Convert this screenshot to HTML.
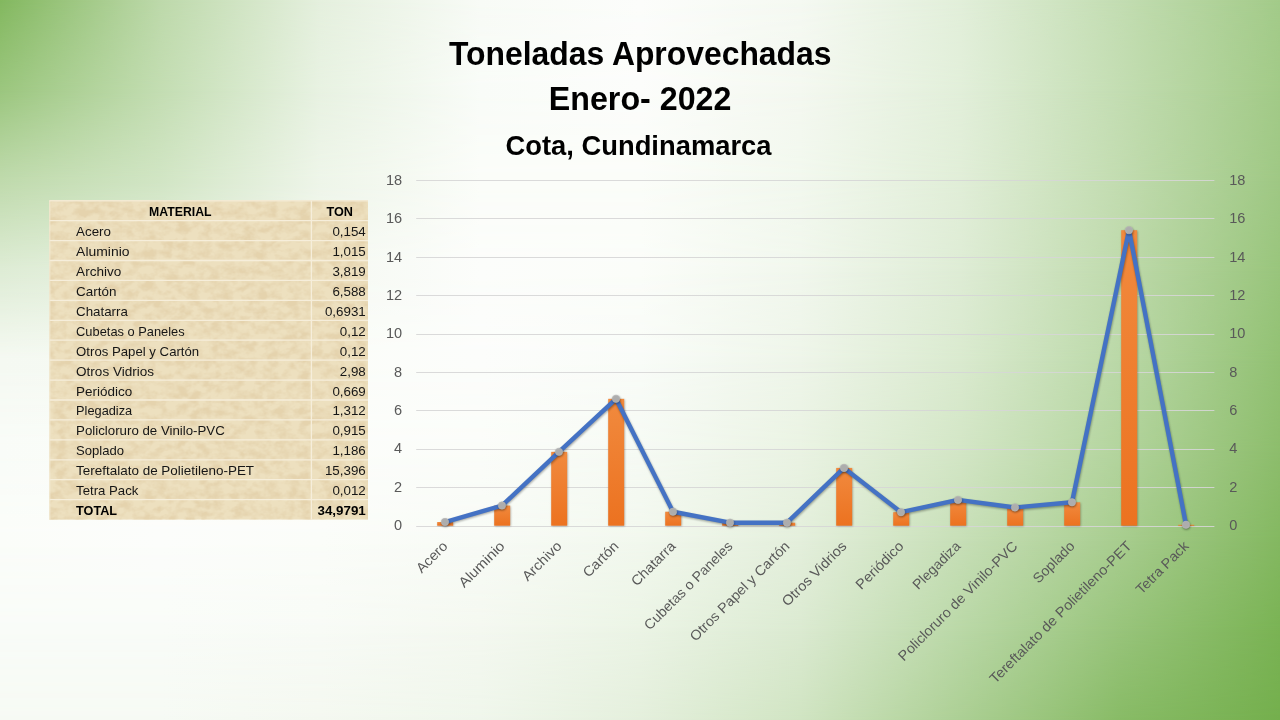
<!DOCTYPE html>
<html lang="es"><head><meta charset="utf-8"><title>Toneladas Aprovechadas Enero- 2022</title>
<style>
html,body{margin:0;padding:0;width:1280px;height:720px;overflow:hidden;background:#fbfdf9;}
body{position:relative;font-family:"Liberation Sans",sans-serif;}
.bd{position:absolute;left:0;width:1280px;overflow:hidden}
.bu{position:absolute;left:0;top:0;width:100%;height:100%;-webkit-mask-image:linear-gradient(to bottom,rgba(0,0,0,0),rgba(0,0,0,1));mask-image:linear-gradient(to bottom,rgba(0,0,0,0),rgba(0,0,0,1))}
svg{position:absolute;left:0;top:0;}
text{font-family:"Liberation Sans",sans-serif;}
</style></head><body>
<div id="bg"><div class="bd" style="top:0px;height:90px;background:linear-gradient(to right,#83b85f 0.00%,#bdd9aa 12.50%,#e5f0de 25.00%,#f8fbf6 37.50%,#fcfdfb 50.00%,#f5f9f2 62.50%,#e2efda 75.00%,#c3ddb2 87.50%,#a3cb89 100.00%)"><div class="bu" style="background:linear-gradient(to right,#9bc67e 0.00%,#c3ddb2 12.50%,#e8f2e2 25.00%,#f9fcf8 37.50%,#fcfdfb 50.00%,#f4f8f0 62.50%,#e2efda 75.00%,#c3ddb2 87.50%,#a2ca87 100.00%)"></div></div>
<div class="bd" style="top:90px;height:90px;background:linear-gradient(to right,#9bc67e 0.00%,#c3ddb2 12.50%,#e8f2e2 25.00%,#f9fcf8 37.50%,#fcfdfb 50.00%,#f4f8f0 62.50%,#e2efda 75.00%,#c3ddb2 87.50%,#a2ca87 100.00%)"><div class="bu" style="background:linear-gradient(to right,#bfdaac 0.00%,#d1e5c4 12.50%,#eef5e9 25.00%,#fbfdf9 37.50%,#fbfdf9 50.00%,#f2f8ee 62.50%,#e1eed8 75.00%,#c2dcb0 87.50%,#9fc884 100.00%)"></div></div>
<div class="bd" style="top:180px;height:90px;background:linear-gradient(to right,#bfdaac 0.00%,#d1e5c4 12.50%,#eef5e9 25.00%,#fbfdf9 37.50%,#fbfdf9 50.00%,#f2f8ee 62.50%,#e1eed8 75.00%,#c2dcb0 87.50%,#9fc884 100.00%)"><div class="bu" style="background:linear-gradient(to right,#deecd5 0.00%,#e8f2e2 12.50%,#f5f9f2 25.00%,#fcfdfb 37.50%,#fbfdf9 50.00%,#f1f7ed 62.50%,#deecd5 75.00%,#bfdaac 87.50%,#99c57c 100.00%)"></div></div>
<div class="bd" style="top:270px;height:90px;background:linear-gradient(to right,#deecd5 0.00%,#e8f2e2 12.50%,#f5f9f2 25.00%,#fcfdfb 37.50%,#fbfdf9 50.00%,#f1f7ed 62.50%,#deecd5 75.00%,#bfdaac 87.50%,#99c57c 100.00%)"><div class="bu" style="background:linear-gradient(to right,#f5f9f2 0.00%,#f6faf4 12.50%,#fbfdf9 25.00%,#fcfdfb 37.50%,#f9fcf8 50.00%,#eef5e9 62.50%,#daeacf 75.00%,#bad8a7 87.50%,#92c173 100.00%)"></div></div>
<div class="bd" style="top:360px;height:90px;background:linear-gradient(to right,#f5f9f2 0.00%,#f6faf4 12.50%,#fbfdf9 25.00%,#fcfdfb 37.50%,#f9fcf8 50.00%,#eef5e9 62.50%,#daeacf 75.00%,#bad8a7 87.50%,#92c173 100.00%)"><div class="bu" style="background:linear-gradient(to right,#f9fcf8 0.00%,#fbfdf9 12.50%,#fcfdfb 25.00%,#fbfdf9 37.50%,#f6faf4 50.00%,#eaf3e3 62.50%,#d3e6c6 75.00%,#b3d49d 87.50%,#8dbd6c 100.00%)"></div></div>
<div class="bd" style="top:450px;height:90px;background:linear-gradient(to right,#f9fcf8 0.00%,#fbfdf9 12.50%,#fcfdfb 25.00%,#fbfdf9 37.50%,#f6faf4 50.00%,#eaf3e3 62.50%,#d3e6c6 75.00%,#b3d49d 87.50%,#8dbd6c 100.00%)"><div class="bu" style="background:linear-gradient(to right,#fbfdf9 0.00%,#fcfdfb 12.50%,#fbfdf9 25.00%,#f8fbf6 37.50%,#f2f8ee 50.00%,#e4efdc 62.50%,#c7dfb7 75.00%,#a8cd8f 87.50%,#84b861 100.00%)"></div></div>
<div class="bd" style="top:540px;height:90px;background:linear-gradient(to right,#fbfdf9 0.00%,#fcfdfb 12.50%,#fbfdf9 25.00%,#f8fbf6 37.50%,#f2f8ee 50.00%,#e4efdc 62.50%,#c7dfb7 75.00%,#a8cd8f 87.50%,#84b861 100.00%)"><div class="bu" style="background:linear-gradient(to right,#f9fcf8 0.00%,#f9fcf8 12.50%,#f8fbf6 25.00%,#f4f8f0 37.50%,#ebf4e5 50.00%,#dbead1 62.50%,#bad8a7 75.00%,#98c47b 87.50%,#7ab354 100.00%)"></div></div>
<div class="bd" style="top:630px;height:90px;background:linear-gradient(to right,#f9fcf8 0.00%,#f9fcf8 12.50%,#f8fbf6 25.00%,#f4f8f0 37.50%,#ebf4e5 50.00%,#dbead1 62.50%,#bad8a7 75.00%,#98c47b 87.50%,#7ab354 100.00%)"><div class="bu" style="background:linear-gradient(to right,#f6faf4 0.00%,#f6faf4 12.50%,#f4f8f0 25.00%,#eff6eb 37.50%,#e4efdc 50.00%,#d0e4c2 62.50%,#accf94 75.00%,#88bb66 87.50%,#74af4d 100.00%)"></div></div></div>
<svg width="1280" height="720" viewBox="0 0 1280 720">
<defs>
<linearGradient id="bar" x1="0" y1="0" x2="0" y2="1"><stop offset="0" stop-color="#f18a3e"/><stop offset="1" stop-color="#ec7220"/></linearGradient>
<filter id="parch" x="0" y="0" width="100%" height="100%">
<feTurbulence type="fractalNoise" baseFrequency="0.09 0.12" numOctaves="3" seed="11" result="n"/>
<feColorMatrix in="n" type="matrix" values="0 0 0 0 0.78  0 0 0 0 0.65  0 0 0 0 0.42  2.0 1.8 0 0 -1.55"/>
<feComposite in2="SourceGraphic" operator="in"/>
</filter>
<filter id="sh" x="-20%" y="-20%" width="140%" height="140%"><feGaussianBlur stdDeviation="1.2"/></filter>
</defs>

<text x="449.00" y="64.60" font-size="33" text-anchor="start" font-weight="bold" fill="#000" textLength="382.5" lengthAdjust="spacingAndGlyphs">Toneladas Aprovechadas</text>
<text x="548.80" y="109.60" font-size="33" text-anchor="start" font-weight="bold" fill="#000" textLength="182.6" lengthAdjust="spacingAndGlyphs">Enero- 2022</text>
<text x="505.50" y="154.50" font-size="28.5" text-anchor="start" font-weight="bold" fill="#000" textLength="266.0" lengthAdjust="spacingAndGlyphs">Cota, Cundinamarca</text>
<g id="tabla">
<rect x="49.3" y="200.7" width="318.7" height="318.88" fill="#ede0bf"/>
<rect x="49.3" y="200.7" width="318.7" height="318.88" fill="#e9dbb9" filter="url(#parch)"/>
<line x1="49.3" y1="200.70" x2="368.0" y2="200.70" stroke="#f3ead3" stroke-width="1.4"/>
<line x1="49.3" y1="220.63" x2="368.0" y2="220.63" stroke="#f6eedb" stroke-width="1.3"/>
<line x1="49.3" y1="240.56" x2="368.0" y2="240.56" stroke="#f6eedb" stroke-width="1.3"/>
<line x1="49.3" y1="260.49" x2="368.0" y2="260.49" stroke="#f6eedb" stroke-width="1.3"/>
<line x1="49.3" y1="280.42" x2="368.0" y2="280.42" stroke="#f6eedb" stroke-width="1.3"/>
<line x1="49.3" y1="300.35" x2="368.0" y2="300.35" stroke="#f6eedb" stroke-width="1.3"/>
<line x1="49.3" y1="320.28" x2="368.0" y2="320.28" stroke="#f6eedb" stroke-width="1.3"/>
<line x1="49.3" y1="340.21" x2="368.0" y2="340.21" stroke="#f6eedb" stroke-width="1.3"/>
<line x1="49.3" y1="360.14" x2="368.0" y2="360.14" stroke="#f6eedb" stroke-width="1.3"/>
<line x1="49.3" y1="380.07" x2="368.0" y2="380.07" stroke="#f6eedb" stroke-width="1.3"/>
<line x1="49.3" y1="400.00" x2="368.0" y2="400.00" stroke="#f6eedb" stroke-width="1.3"/>
<line x1="49.3" y1="419.93" x2="368.0" y2="419.93" stroke="#f6eedb" stroke-width="1.3"/>
<line x1="49.3" y1="439.86" x2="368.0" y2="439.86" stroke="#f6eedb" stroke-width="1.3"/>
<line x1="49.3" y1="459.79" x2="368.0" y2="459.79" stroke="#f6eedb" stroke-width="1.3"/>
<line x1="49.3" y1="479.72" x2="368.0" y2="479.72" stroke="#f6eedb" stroke-width="1.3"/>
<line x1="49.3" y1="499.65" x2="368.0" y2="499.65" stroke="#f6eedb" stroke-width="1.3"/>
<line x1="311.4" y1="200.7" x2="311.4" y2="519.58" stroke="#f6eedb" stroke-width="1.3"/>
<line x1="49.8" y1="200.7" x2="49.8" y2="519.58" stroke="#f3ead3" stroke-width="1"/>
<text x="180.35" y="216.13" font-size="13" text-anchor="middle" font-weight="bold" fill="#000" textLength="62.5" lengthAdjust="spacingAndGlyphs">MATERIAL</text>
<text x="339.70" y="216.13" font-size="13" text-anchor="middle" font-weight="bold" fill="#000" textLength="26.5" lengthAdjust="spacingAndGlyphs">TON</text>
<text x="76.10" y="236.06" font-size="13" text-anchor="start" fill="#161616" textLength="34.9" lengthAdjust="spacingAndGlyphs">Acero</text>
<text x="365.80" y="236.06" font-size="13" text-anchor="end" fill="#161616" textLength="33.4" lengthAdjust="spacingAndGlyphs">0,154</text>
<text x="76.10" y="255.99" font-size="13" text-anchor="start" fill="#161616" textLength="53.4" lengthAdjust="spacingAndGlyphs">Aluminio</text>
<text x="365.80" y="255.99" font-size="13" text-anchor="end" fill="#161616" textLength="33.4" lengthAdjust="spacingAndGlyphs">1,015</text>
<text x="76.10" y="275.92" font-size="13" text-anchor="start" fill="#161616" textLength="45.2" lengthAdjust="spacingAndGlyphs">Archivo</text>
<text x="365.80" y="275.92" font-size="13" text-anchor="end" fill="#161616" textLength="33.4" lengthAdjust="spacingAndGlyphs">3,819</text>
<text x="76.10" y="295.85" font-size="13" text-anchor="start" fill="#161616" textLength="40.3" lengthAdjust="spacingAndGlyphs">Cartón</text>
<text x="365.80" y="295.85" font-size="13" text-anchor="end" fill="#161616" textLength="33.4" lengthAdjust="spacingAndGlyphs">6,588</text>
<text x="76.10" y="315.78" font-size="13" text-anchor="start" fill="#161616" textLength="51.8" lengthAdjust="spacingAndGlyphs">Chatarra</text>
<text x="365.80" y="315.78" font-size="13" text-anchor="end" fill="#161616" textLength="40.9" lengthAdjust="spacingAndGlyphs">0,6931</text>
<text x="76.10" y="335.71" font-size="13" text-anchor="start" fill="#161616" textLength="108.6" lengthAdjust="spacingAndGlyphs">Cubetas o Paneles</text>
<text x="365.80" y="335.71" font-size="13" text-anchor="end" fill="#161616" textLength="26.0" lengthAdjust="spacingAndGlyphs">0,12</text>
<text x="76.10" y="355.64" font-size="13" text-anchor="start" fill="#161616" textLength="123.1" lengthAdjust="spacingAndGlyphs">Otros Papel y Cartón</text>
<text x="365.80" y="355.64" font-size="13" text-anchor="end" fill="#161616" textLength="26.0" lengthAdjust="spacingAndGlyphs">0,12</text>
<text x="76.10" y="375.57" font-size="13" text-anchor="start" fill="#161616" textLength="77.9" lengthAdjust="spacingAndGlyphs">Otros Vidrios</text>
<text x="365.80" y="375.57" font-size="13" text-anchor="end" fill="#161616" textLength="26.0" lengthAdjust="spacingAndGlyphs">2,98</text>
<text x="76.10" y="395.50" font-size="13" text-anchor="start" fill="#161616" textLength="56.1" lengthAdjust="spacingAndGlyphs">Periódico</text>
<text x="365.80" y="395.50" font-size="13" text-anchor="end" fill="#161616" textLength="33.4" lengthAdjust="spacingAndGlyphs">0,669</text>
<text x="76.10" y="415.43" font-size="13" text-anchor="start" fill="#161616" textLength="56.1" lengthAdjust="spacingAndGlyphs">Plegadiza</text>
<text x="365.80" y="415.43" font-size="13" text-anchor="end" fill="#161616" textLength="33.4" lengthAdjust="spacingAndGlyphs">1,312</text>
<text x="76.10" y="435.36" font-size="13" text-anchor="start" fill="#161616" textLength="148.7" lengthAdjust="spacingAndGlyphs">Policloruro de Vinilo-PVC</text>
<text x="365.80" y="435.36" font-size="13" text-anchor="end" fill="#161616" textLength="33.4" lengthAdjust="spacingAndGlyphs">0,915</text>
<text x="76.10" y="455.29" font-size="13" text-anchor="start" fill="#161616" textLength="48.0" lengthAdjust="spacingAndGlyphs">Soplado</text>
<text x="365.80" y="455.29" font-size="13" text-anchor="end" fill="#161616" textLength="33.4" lengthAdjust="spacingAndGlyphs">1,186</text>
<text x="76.10" y="475.22" font-size="13" text-anchor="start" fill="#161616" textLength="178.0" lengthAdjust="spacingAndGlyphs">Tereftalato de Polietileno-PET</text>
<text x="365.80" y="475.22" font-size="13" text-anchor="end" fill="#161616" textLength="40.9" lengthAdjust="spacingAndGlyphs">15,396</text>
<text x="76.10" y="495.15" font-size="13" text-anchor="start" fill="#161616" textLength="62.3" lengthAdjust="spacingAndGlyphs">Tetra Pack</text>
<text x="365.80" y="495.15" font-size="13" text-anchor="end" fill="#161616" textLength="33.4" lengthAdjust="spacingAndGlyphs">0,012</text>
<text x="76.10" y="515.08" font-size="13" text-anchor="start" font-weight="bold" fill="#000" textLength="41.0" lengthAdjust="spacingAndGlyphs">TOTAL</text>
<text x="365.80" y="515.08" font-size="13" text-anchor="end" font-weight="bold" fill="#000" textLength="48.3" lengthAdjust="spacingAndGlyphs">34,9791</text>
</g>
<g id="grafico">
<rect x="416.2" y="526.05" width="798.2" height="0.9" fill="#d6d6d6"/>
<rect x="416.2" y="487.05" width="798.2" height="0.9" fill="#d6d6d6"/>
<rect x="416.2" y="449.05" width="798.2" height="0.9" fill="#d6d6d6"/>
<rect x="416.2" y="410.05" width="798.2" height="0.9" fill="#d6d6d6"/>
<rect x="416.2" y="372.05" width="798.2" height="0.9" fill="#d6d6d6"/>
<rect x="416.2" y="334.05" width="798.2" height="0.9" fill="#d6d6d6"/>
<rect x="416.2" y="295.05" width="798.2" height="0.9" fill="#d6d6d6"/>
<rect x="416.2" y="257.05" width="798.2" height="0.9" fill="#d6d6d6"/>
<rect x="416.2" y="218.05" width="798.2" height="0.9" fill="#d6d6d6"/>
<rect x="416.2" y="180.05" width="798.2" height="0.9" fill="#d6d6d6"/>
<text x="402.20" y="529.80" font-size="14" text-anchor="end" fill="#595959" textLength="8.1" lengthAdjust="spacingAndGlyphs">0</text>
<text x="1229.20" y="529.80" font-size="14" text-anchor="start" fill="#595959" textLength="8.1" lengthAdjust="spacingAndGlyphs">0</text>
<text x="402.20" y="491.51" font-size="14" text-anchor="end" fill="#595959" textLength="8.1" lengthAdjust="spacingAndGlyphs">2</text>
<text x="1229.20" y="491.51" font-size="14" text-anchor="start" fill="#595959" textLength="8.1" lengthAdjust="spacingAndGlyphs">2</text>
<text x="402.20" y="453.22" font-size="14" text-anchor="end" fill="#595959" textLength="8.1" lengthAdjust="spacingAndGlyphs">4</text>
<text x="1229.20" y="453.22" font-size="14" text-anchor="start" fill="#595959" textLength="8.1" lengthAdjust="spacingAndGlyphs">4</text>
<text x="402.20" y="414.93" font-size="14" text-anchor="end" fill="#595959" textLength="8.1" lengthAdjust="spacingAndGlyphs">6</text>
<text x="1229.20" y="414.93" font-size="14" text-anchor="start" fill="#595959" textLength="8.1" lengthAdjust="spacingAndGlyphs">6</text>
<text x="402.20" y="376.64" font-size="14" text-anchor="end" fill="#595959" textLength="8.1" lengthAdjust="spacingAndGlyphs">8</text>
<text x="1229.20" y="376.64" font-size="14" text-anchor="start" fill="#595959" textLength="8.1" lengthAdjust="spacingAndGlyphs">8</text>
<text x="402.20" y="338.35" font-size="14" text-anchor="end" fill="#595959" textLength="16.2" lengthAdjust="spacingAndGlyphs">10</text>
<text x="1229.20" y="338.35" font-size="14" text-anchor="start" fill="#595959" textLength="16.2" lengthAdjust="spacingAndGlyphs">10</text>
<text x="402.20" y="300.06" font-size="14" text-anchor="end" fill="#595959" textLength="16.2" lengthAdjust="spacingAndGlyphs">12</text>
<text x="1229.20" y="300.06" font-size="14" text-anchor="start" fill="#595959" textLength="16.2" lengthAdjust="spacingAndGlyphs">12</text>
<text x="402.20" y="261.77" font-size="14" text-anchor="end" fill="#595959" textLength="16.2" lengthAdjust="spacingAndGlyphs">14</text>
<text x="1229.20" y="261.77" font-size="14" text-anchor="start" fill="#595959" textLength="16.2" lengthAdjust="spacingAndGlyphs">14</text>
<text x="402.20" y="223.48" font-size="14" text-anchor="end" fill="#595959" textLength="16.2" lengthAdjust="spacingAndGlyphs">16</text>
<text x="1229.20" y="223.48" font-size="14" text-anchor="start" fill="#595959" textLength="16.2" lengthAdjust="spacingAndGlyphs">16</text>
<text x="402.20" y="185.19" font-size="14" text-anchor="end" fill="#595959" textLength="16.2" lengthAdjust="spacingAndGlyphs">18</text>
<text x="1229.20" y="185.19" font-size="14" text-anchor="start" fill="#595959" textLength="16.2" lengthAdjust="spacingAndGlyphs">18</text>
<rect x="437.80" y="522.85" width="16" height="3.35" fill="#000" opacity=".28" filter="url(#sh)"/>
<rect x="437.20" y="522.05" width="16" height="3.65" fill="url(#bar)"/>
<rect x="494.80" y="506.36" width="16" height="19.84" fill="#000" opacity=".28" filter="url(#sh)"/>
<rect x="494.20" y="505.56" width="16" height="20.14" fill="url(#bar)"/>
<rect x="551.80" y="452.67" width="16" height="73.53" fill="#000" opacity=".28" filter="url(#sh)"/>
<rect x="551.20" y="451.87" width="16" height="73.83" fill="url(#bar)"/>
<rect x="608.80" y="399.64" width="16" height="126.56" fill="#000" opacity=".28" filter="url(#sh)"/>
<rect x="608.20" y="398.84" width="16" height="126.86" fill="url(#bar)"/>
<rect x="665.80" y="512.53" width="16" height="13.67" fill="#000" opacity=".28" filter="url(#sh)"/>
<rect x="665.20" y="511.73" width="16" height="13.97" fill="url(#bar)"/>
<rect x="722.80" y="523.50" width="16" height="2.70" fill="#000" opacity=".28" filter="url(#sh)"/>
<rect x="722.20" y="522.70" width="16" height="3.00" fill="url(#bar)"/>
<rect x="779.80" y="523.50" width="16" height="2.70" fill="#000" opacity=".28" filter="url(#sh)"/>
<rect x="779.20" y="522.70" width="16" height="3.00" fill="url(#bar)"/>
<rect x="836.80" y="468.73" width="16" height="57.47" fill="#000" opacity=".28" filter="url(#sh)"/>
<rect x="836.20" y="467.93" width="16" height="57.77" fill="url(#bar)"/>
<rect x="893.80" y="512.99" width="16" height="13.21" fill="#000" opacity=".28" filter="url(#sh)"/>
<rect x="893.20" y="512.19" width="16" height="13.51" fill="url(#bar)"/>
<rect x="950.80" y="500.68" width="16" height="25.52" fill="#000" opacity=".28" filter="url(#sh)"/>
<rect x="950.20" y="499.88" width="16" height="25.82" fill="url(#bar)"/>
<rect x="1007.80" y="508.28" width="16" height="17.92" fill="#000" opacity=".28" filter="url(#sh)"/>
<rect x="1007.20" y="507.48" width="16" height="18.22" fill="url(#bar)"/>
<rect x="1064.80" y="503.09" width="16" height="23.11" fill="#000" opacity=".28" filter="url(#sh)"/>
<rect x="1064.20" y="502.29" width="16" height="23.41" fill="url(#bar)"/>
<rect x="1121.80" y="230.97" width="16" height="295.23" fill="#000" opacity=".28" filter="url(#sh)"/>
<rect x="1121.20" y="230.17" width="16" height="295.53" fill="url(#bar)"/>
<rect x="1178.80" y="525.57" width="16" height="0.63" fill="#000" opacity=".28" filter="url(#sh)"/>
<rect x="1178.20" y="524.77" width="16" height="0.93" fill="url(#bar)"/>
<polyline points="445.50,523.25 502.50,506.76 559.50,453.07 616.50,400.04 673.50,512.93 730.50,523.90 787.50,523.90 844.50,469.13 901.50,513.39 958.50,501.08 1015.50,508.68 1072.50,503.49 1129.50,231.37 1186.50,525.97" fill="none" stroke="#000" opacity=".35" stroke-width="4.4" stroke-linejoin="round" stroke-linecap="round" filter="url(#sh)"/>
<polyline points="445.00,522.05 502.00,505.56 559.00,451.87 616.00,398.84 673.00,511.73 730.00,522.70 787.00,522.70 844.00,467.93 901.00,512.19 958.00,499.88 1015.00,507.48 1072.00,502.29 1129.00,230.17 1186.00,524.77" fill="none" stroke="#4472c4" stroke-width="4.4" stroke-linejoin="round" stroke-linecap="round"/>
<circle cx="445.40" cy="523.05" r="4" fill="#000" opacity=".35" filter="url(#sh)"/>
<circle cx="445.00" cy="522.05" r="3.7" fill="#adadad" stroke="#b9b9b9" stroke-width=".6"/>
<circle cx="502.40" cy="506.56" r="4" fill="#000" opacity=".35" filter="url(#sh)"/>
<circle cx="502.00" cy="505.56" r="3.7" fill="#adadad" stroke="#b9b9b9" stroke-width=".6"/>
<circle cx="559.40" cy="452.87" r="4" fill="#000" opacity=".35" filter="url(#sh)"/>
<circle cx="559.00" cy="451.87" r="3.7" fill="#adadad" stroke="#b9b9b9" stroke-width=".6"/>
<circle cx="616.40" cy="399.84" r="4" fill="#000" opacity=".35" filter="url(#sh)"/>
<circle cx="616.00" cy="398.84" r="3.7" fill="#adadad" stroke="#b9b9b9" stroke-width=".6"/>
<circle cx="673.40" cy="512.73" r="4" fill="#000" opacity=".35" filter="url(#sh)"/>
<circle cx="673.00" cy="511.73" r="3.7" fill="#adadad" stroke="#b9b9b9" stroke-width=".6"/>
<circle cx="730.40" cy="523.70" r="4" fill="#000" opacity=".35" filter="url(#sh)"/>
<circle cx="730.00" cy="522.70" r="3.7" fill="#adadad" stroke="#b9b9b9" stroke-width=".6"/>
<circle cx="787.40" cy="523.70" r="4" fill="#000" opacity=".35" filter="url(#sh)"/>
<circle cx="787.00" cy="522.70" r="3.7" fill="#adadad" stroke="#b9b9b9" stroke-width=".6"/>
<circle cx="844.40" cy="468.93" r="4" fill="#000" opacity=".35" filter="url(#sh)"/>
<circle cx="844.00" cy="467.93" r="3.7" fill="#adadad" stroke="#b9b9b9" stroke-width=".6"/>
<circle cx="901.40" cy="513.19" r="4" fill="#000" opacity=".35" filter="url(#sh)"/>
<circle cx="901.00" cy="512.19" r="3.7" fill="#adadad" stroke="#b9b9b9" stroke-width=".6"/>
<circle cx="958.40" cy="500.88" r="4" fill="#000" opacity=".35" filter="url(#sh)"/>
<circle cx="958.00" cy="499.88" r="3.7" fill="#adadad" stroke="#b9b9b9" stroke-width=".6"/>
<circle cx="1015.40" cy="508.48" r="4" fill="#000" opacity=".35" filter="url(#sh)"/>
<circle cx="1015.00" cy="507.48" r="3.7" fill="#adadad" stroke="#b9b9b9" stroke-width=".6"/>
<circle cx="1072.40" cy="503.29" r="4" fill="#000" opacity=".35" filter="url(#sh)"/>
<circle cx="1072.00" cy="502.29" r="3.7" fill="#adadad" stroke="#b9b9b9" stroke-width=".6"/>
<circle cx="1129.40" cy="231.17" r="4" fill="#000" opacity=".35" filter="url(#sh)"/>
<circle cx="1129.00" cy="230.17" r="3.7" fill="#adadad" stroke="#b9b9b9" stroke-width=".6"/>
<circle cx="1186.40" cy="525.77" r="4" fill="#000" opacity=".35" filter="url(#sh)"/>
<circle cx="1186.00" cy="524.77" r="3.7" fill="#adadad" stroke="#b9b9b9" stroke-width=".6"/>
<text transform="translate(448.50,547.00) rotate(-45)" font-size="14" text-anchor="end" fill="#595959" textLength="38.0" lengthAdjust="spacingAndGlyphs">Acero</text>
<text transform="translate(505.50,547.00) rotate(-45)" font-size="14" text-anchor="end" fill="#595959" textLength="58.3" lengthAdjust="spacingAndGlyphs">Aluminio</text>
<text transform="translate(562.50,547.00) rotate(-45)" font-size="14" text-anchor="end" fill="#595959" textLength="49.3" lengthAdjust="spacingAndGlyphs">Archivo</text>
<text transform="translate(619.50,547.00) rotate(-45)" font-size="14" text-anchor="end" fill="#595959" textLength="44.0" lengthAdjust="spacingAndGlyphs">Cartón</text>
<text transform="translate(676.50,547.00) rotate(-45)" font-size="14" text-anchor="end" fill="#595959" textLength="56.4" lengthAdjust="spacingAndGlyphs">Chatarra</text>
<text transform="translate(733.50,547.00) rotate(-45)" font-size="14" text-anchor="end" fill="#595959" textLength="118.4" lengthAdjust="spacingAndGlyphs">Cubetas o Paneles</text>
<text transform="translate(790.50,547.00) rotate(-45)" font-size="14" text-anchor="end" fill="#595959" textLength="134.3" lengthAdjust="spacingAndGlyphs">Otros Papel y Cartón</text>
<text transform="translate(847.50,547.00) rotate(-45)" font-size="14" text-anchor="end" fill="#595959" textLength="84.9" lengthAdjust="spacingAndGlyphs">Otros Vidrios</text>
<text transform="translate(904.50,547.00) rotate(-45)" font-size="14" text-anchor="end" fill="#595959" textLength="61.2" lengthAdjust="spacingAndGlyphs">Periódico</text>
<text transform="translate(961.50,547.00) rotate(-45)" font-size="14" text-anchor="end" fill="#595959" textLength="61.2" lengthAdjust="spacingAndGlyphs">Plegadiza</text>
<text transform="translate(1018.50,547.00) rotate(-45)" font-size="14" text-anchor="end" fill="#595959" textLength="162.2" lengthAdjust="spacingAndGlyphs">Policloruro de Vinilo-PVC</text>
<text transform="translate(1075.50,547.00) rotate(-45)" font-size="14" text-anchor="end" fill="#595959" textLength="52.3" lengthAdjust="spacingAndGlyphs">Soplado</text>
<text transform="translate(1132.50,547.00) rotate(-45)" font-size="14" text-anchor="end" fill="#595959" textLength="194.2" lengthAdjust="spacingAndGlyphs">Tereftalato de Polietileno-PET</text>
<text transform="translate(1189.50,547.00) rotate(-45)" font-size="14" text-anchor="end" fill="#595959" textLength="68.0" lengthAdjust="spacingAndGlyphs">Tetra Pack</text>
</g>
</svg></body></html>
